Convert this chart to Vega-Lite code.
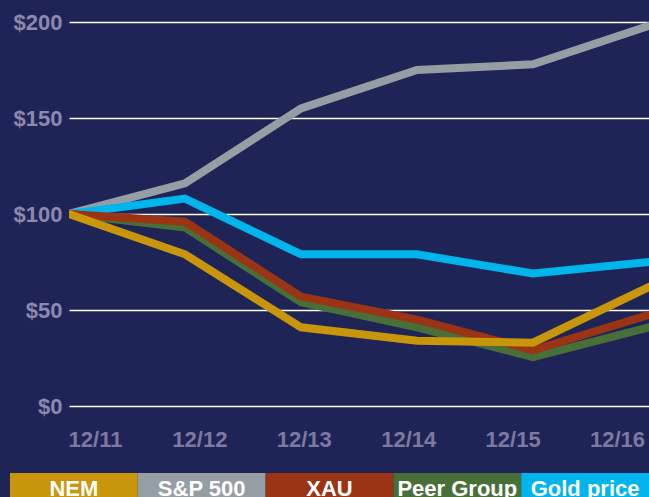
{
  "$schema": "https://vega.github.io/schema/vega-lite/v6.json",
  "background": "#1f2457",
  "padding": {"left": 10, "top": 11, "right": 0, "bottom": 0},
  "spacing": 23,
  "config": {"view": {"stroke": null}, "font": "Liberation Sans"},
  "datasets": {
    "lines": [
      {"date": "12/11", "series": "S&P 500", "value": 100},
      {"date": "12/12", "series": "S&P 500", "value": 116},
      {"date": "12/13", "series": "S&P 500", "value": 155},
      {"date": "12/14", "series": "S&P 500", "value": 175},
      {"date": "12/15", "series": "S&P 500", "value": 178},
      {"date": "12/16", "series": "S&P 500", "value": 198},
      {"date": "12/11", "series": "Gold price", "value": 100},
      {"date": "12/12", "series": "Gold price", "value": 108},
      {"date": "12/13", "series": "Gold price", "value": 79},
      {"date": "12/14", "series": "Gold price", "value": 79},
      {"date": "12/15", "series": "Gold price", "value": 69},
      {"date": "12/16", "series": "Gold price", "value": 75},
      {"date": "12/11", "series": "Peer Group", "value": 100},
      {"date": "12/12", "series": "Peer Group", "value": 93},
      {"date": "12/13", "series": "Peer Group", "value": 54},
      {"date": "12/14", "series": "Peer Group", "value": 41},
      {"date": "12/15", "series": "Peer Group", "value": 25.5},
      {"date": "12/16", "series": "Peer Group", "value": 41},
      {"date": "12/11", "series": "XAU", "value": 100},
      {"date": "12/12", "series": "XAU", "value": 96},
      {"date": "12/13", "series": "XAU", "value": 57},
      {"date": "12/14", "series": "XAU", "value": 45},
      {"date": "12/15", "series": "XAU", "value": 29},
      {"date": "12/16", "series": "XAU", "value": 47.5},
      {"date": "12/11", "series": "NEM", "value": 100},
      {"date": "12/12", "series": "NEM", "value": 79},
      {"date": "12/13", "series": "NEM", "value": 41},
      {"date": "12/14", "series": "NEM", "value": 34},
      {"date": "12/15", "series": "NEM", "value": 33},
      {"date": "12/16", "series": "NEM", "value": 62}
    ],
    "legend": [
      {"name": "NEM"},
      {"name": "S&P 500"},
      {"name": "XAU"},
      {"name": "Peer Group"},
      {"name": "Gold price"}
    ]
  },
  "vconcat": [
    {
      "width": 580,
      "height": 384,
      "layer": [
        {
          "data": {"name": "lines"},
          "mark": {"type": "line", "strokeWidth": 8, "strokeCap": "round", "clip": true},
          "encoding": {
            "x": {"field": "date", "type": "ordinal", "scale": {"type": "point", "padding": 0}, "axis": null},
            "y": {
              "field": "value", "type": "quantitative",
              "scale": {"domain": [0, 200], "nice": false},
              "axis": {
                "values": [0, 50, 100, 150, 200],
                "labelExpr": "'$' + datum.value",
                "labelFont": "Liberation Sans", "labelFontSize": 22, "labelFontWeight": "bold",
                "labelColor": "#8c89ad", "labelPadding": 7,
                "ticks": false, "domain": false, "grid": true,
                "gridColor": "#ffffff", "gridWidth": 1.5, "title": null,
                "minExtent": 59, "maxExtent": 59
              }
            },
            "color": {
              "field": "series", "type": "nominal",
              "scale": {
                "domain": ["NEM", "S&P 500", "XAU", "Peer Group", "Gold price"],
                "range": ["#c8960a", "#969ea5", "#9b3414", "#486f38", "#00b5ec"]
              },
              "legend": null
            }
          }
        },
        {
          "data": {"name": "lines"},
          "mark": {"type": "point", "opacity": 0},
          "encoding": {
            "x": {
              "field": "date", "type": "ordinal",
              "scale": {"type": "point", "padding": 0, "range": [26, 548]},
              "axis": {
                "labelFont": "Liberation Sans", "labelFontSize": 22, "labelFontWeight": "bold",
                "labelColor": "#7d7aa0", "labelPadding": 23, "labelAngle": 0,
                "ticks": false, "domain": false, "grid": false, "title": null
              }
            }
          }
        }
      ],
      "resolve": {"scale": {"x": "independent"}, "axis": {"x": "independent"}}
    },
    {
      "width": 580,
      "height": 26,
      "data": {"name": "legend"},
      "encoding": {
        "x": {
          "field": "name", "type": "nominal",
          "sort": ["NEM", "S&P 500", "XAU", "Peer Group", "Gold price"],
          "scale": {"type": "band", "paddingInner": 0, "paddingOuter": 0, "range": [-59, 580]},
          "axis": null
        }
      },
      "layer": [
        {
          "mark": {"type": "bar"},
          "encoding": {
            "color": {
              "field": "name", "type": "nominal",
              "scale": {
                "domain": ["NEM", "S&P 500", "XAU", "Peer Group", "Gold price"],
                "range": ["#c8960a", "#969ea5", "#9b3414", "#486f38", "#00b5ec"]
              },
              "legend": null
            }
          }
        },
        {
          "mark": {"type": "text", "color": "#ffffff", "font": "Liberation Sans", "fontSize": 22, "fontWeight": "bold", "baseline": "alphabetic", "dy": 10},
          "encoding": {"text": {"field": "name"}}
        }
      ]
    }
  ]
}
